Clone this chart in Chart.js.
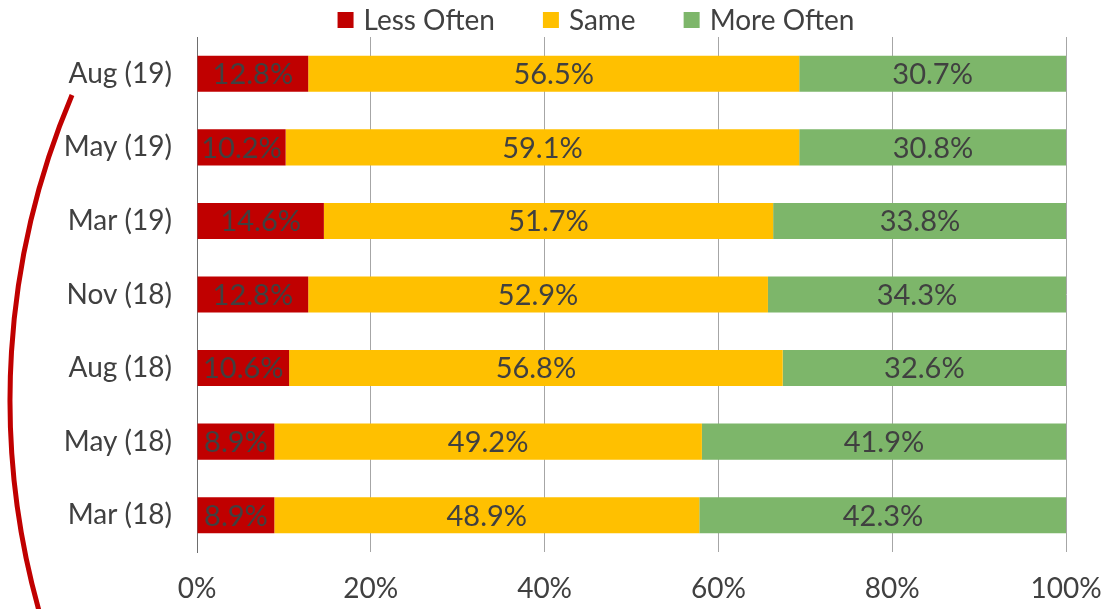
<!DOCTYPE html>
<html>
<head>
<meta charset="utf-8">
<script src="https://cdn.jsdelivr.net/npm/chart.js@4/dist/chart.umd.min.js"></script>
<style>
  html, body { margin: 0; padding: 0; background: #ffffff; }
  #wrap { width: 1105px; height: 609px; position: relative; }
</style>
</head>
<body>
<div id="wrap"><canvas id="c" width="1105" height="609"></canvas></div>
<script>
const categories = ["Aug (19)", "May (19)", "Mar (19)", "Nov (18)", "Aug (18)", "May (18)", "Mar (18)"];
const seriesNames = ["Less Often", "Same", "More Often"];
const lessOften = [12.8, 10.2, 14.6, 12.8, 10.6, 8.9, 8.9];
const same = [56.5, 59.1, 51.7, 52.9, 56.8, 49.2, 48.9];
const moreOften = [30.7, 30.8, 33.8, 34.3, 32.6, 41.9, 42.3];
const xTicks = [0, 20, 40, 60, 80, 100];

const FONT = "Lato, 'Open Sans', sans-serif";
const TEXT = "#404040";
const colors = ["#C00000", "#FFC000", "#7DB66A"];

const labelsPlugin = {
  id: 'segLabels',
  afterDatasetsDraw(chart) {
    const ctx = chart.ctx;
    ctx.save();
    ctx.font = "29px " + FONT;
    ctx.fillStyle = TEXT;
    ctx.textAlign = 'center';
    ctx.textBaseline = 'middle';
    chart.data.datasets.forEach((ds, di) => {
      const meta = chart.getDatasetMeta(di);
      meta.data.forEach((bar, i) => {
        const p = bar.getProps(['x', 'y', 'base'], true);
        const cx = (p.x + p.base) / 2;
        ctx.fillText(ds.data[i].toFixed(1) + '%', cx, p.y + 1);
      });
    });
    ctx.restore();
  }
};

const legendPlugin = {
  id: 'customLegend',
  afterDraw(chart) {
    const ctx = chart.ctx;
    ctx.save();
    ctx.font = "28px " + FONT;
    ctx.textBaseline = 'middle';
    ctx.textAlign = 'left';
    const box = 16, gap = 10, itemGap = 48;
    const items = chart.data.datasets.map(ds => ({ label: ds.label, color: ds.backgroundColor, w: ctx.measureText(ds.label).width }));
    const total = items.reduce((s, it) => s + box + gap + it.w, 0) + itemGap * (items.length - 1);
    let x = 596 - total / 2;
    const y = 20;
    items.forEach(it => {
      ctx.fillStyle = it.color;
      ctx.fillRect(x, y - box / 2, box, box);
      ctx.fillStyle = TEXT;
      ctx.fillText(it.label, x + box + gap, y + 1);
      x += box + gap + it.w + itemGap;
    });
    ctx.restore();
  }
};

const arcPlugin = {
  id: 'arcDecor',
  afterDraw(chart) {
    const ctx = chart.ctx;
    ctx.save();
    ctx.strokeStyle = "#C00000";
    ctx.lineWidth = 5;
    ctx.beginPath();
    const cx = 791, cy = 400, R = 781;
    const a0 = Math.atan2(612 - cy, 47 - cx);
    const a1 = Math.atan2(95 - cy, 72 - cx) + 2 * Math.PI;
    ctx.arc(cx, cy, R, a0, a1, false);
    ctx.stroke();
    ctx.restore();
  }
};

new Chart(document.getElementById('c'), {
  type: 'bar',
  data: {
    labels: categories,
    datasets: [
      { label: seriesNames[0], data: lessOften, backgroundColor: colors[0] },
      { label: seriesNames[1], data: same, backgroundColor: colors[1] },
      { label: seriesNames[2], data: moreOften, backgroundColor: colors[2] }
    ]
  },
  options: {
    indexAxis: 'y',
    responsive: false,
    animation: false,
    devicePixelRatio: 1,
    layout: { padding: { top: 37, right: 39, bottom: 0, left: 0 } },
    datasets: { bar: { barPercentage: 0.49, categoryPercentage: 1.0, borderWidth: 0 } },
    plugins: {
      legend: { display: false },
      tooltip: { enabled: false }
    },
    scales: {
      x: {
        stacked: true,
        min: 0,
        max: 100,
        afterBuildTicks(scale) { scale.ticks = xTicks.map(v => ({ value: v })); },
        afterFit(scale) { scale.height = 57; scale.paddingLeft = 0; scale.paddingRight = 0; },
        ticks: {
          callback: v => v + '%',
          color: TEXT,
          font: { family: FONT, size: 28 },
          padding: 20,
          maxRotation: 0
        },
        grid: { color: "#A6A6A6", lineWidth: 1, drawTicks: false },
        border: { display: false }
      },
      y: {
        stacked: true,
        afterFit(scale) { scale.width = 197; scale.paddingTop = 0; scale.paddingBottom = 0; },
        ticks: {
          color: TEXT,
          font: { family: FONT, size: 28 },
          padding: 25
        },
        grid: { display: false, drawTicks: false },
        border: { display: true, color: "#6E6E6E", width: 1 }
      }
    }
  },
  plugins: [labelsPlugin, legendPlugin, arcPlugin]
});
</script>
</body>
</html>
